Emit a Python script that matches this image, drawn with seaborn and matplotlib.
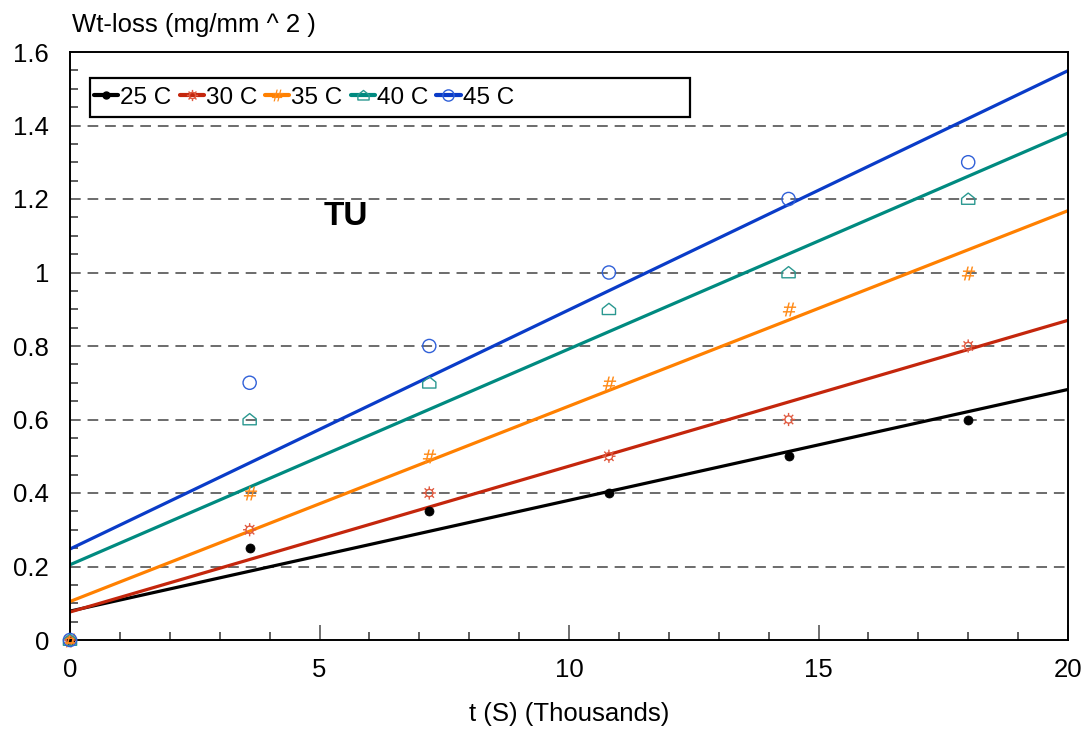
import numpy as np
import pandas as pd
import matplotlib
matplotlib.use("Agg")
import matplotlib.pyplot as plt
from matplotlib.lines import Line2D
from matplotlib.path import Path
from matplotlib.patches import Rectangle
import seaborn as sns

# ---- data ----
time_k = [0, 3.6, 7.2, 10.8, 14.4, 18.0]
series_names = ["25 C", "30 C", "35 C", "40 C", "45 C"]
wt_25 = [0, 0.25, 0.35, 0.40, 0.50, 0.60]
wt_30 = [0, 0.30, 0.40, 0.50, 0.60, 0.80]
wt_35 = [0, 0.40, 0.50, 0.70, 0.90, 1.00]
wt_40 = [0, 0.60, 0.70, 0.90, 1.00, 1.20]
wt_45 = [0, 0.70, 0.80, 1.00, 1.20, 1.30]
y_ticks = [0, 0.2, 0.4, 0.6, 0.8, 1.0, 1.2, 1.4, 1.6]
y_tick_labels = ["0", "0.2", "0.4", "0.6", "0.8", "1", "1.2", "1.4", "1.6"]
x_ticks = [0, 5, 10, 15, 20]
x_tick_labels = ["0", "5", "10", "15", "20"]

all_vals = [wt_25, wt_30, wt_35, wt_40, wt_45]

sns.set_theme(style="white")
plt.rcParams["font.family"] = ["Liberation Sans", "DejaVu Sans"]

line_colors = ["#000000", "#C4260C", "#FF8000", "#008A80", "#0A3CC8"]
marker_colors = ["#000000", "#E05A40", "#FF8C1A", "#2A9890", "#3060D8"]

# marker shapes
house = Path([(-1, -0.8), (1, -0.8), (1, 0.1), (0, 0.9), (-1, 0.1), (-1, -0.8)],
             [Path.MOVETO, Path.LINETO, Path.LINETO, Path.LINETO, Path.LINETO, Path.CLOSEPOLY])
_ang = np.linspace(0, 2 * np.pi, 17)
_verts = [(0.55 * np.cos(a), 0.55 * np.sin(a)) for a in _ang]
_codes = [Path.MOVETO] + [Path.LINETO] * 16
for a in np.arange(8) * np.pi / 4:
    _verts += [(0.62 * np.cos(a), 0.62 * np.sin(a)), (1.0 * np.cos(a), 1.0 * np.sin(a))]
    _codes += [Path.MOVETO, Path.LINETO]
sun = Path(_verts, _codes)

markers = ["o", sun, "$\\#$", house, "o"]
msizes = [6.5, 9.5, 10, 9.5, 9.5]
filled = [True, False, False, False, False]

rows = []
for name, vals in zip(series_names, all_vals):
    for t, v in zip(time_k, vals):
        rows.append({"t": t, "wt": v, "series": name})
df = pd.DataFrame(rows)

FS = 18.5

fig = plt.figure(figsize=(10.85, 7.35), dpi=100)
ax = fig.add_axes([70 / 1085, 95 / 735, 998 / 1085, 588 / 735])

# dashed grid
for yv in y_ticks[1:-1]:
    ax.axhline(yv, color="#444444", lw=1.1, ls=(0, (7, 4.5)), zorder=0)

xfit = np.array([0.0, 20.0])
handles = []
for i, name in enumerate(series_names):
    sub = df[df["series"] == name]
    k, b = np.polyfit(sub["t"], sub["wt"], 1)
    fit = pd.DataFrame({"t": xfit, "wt": k * xfit + b})
    sns.lineplot(data=fit, x="t", y="wt", ax=ax, color=line_colors[i], lw=2.3,
                 zorder=2, legend=False)
    hollow = (not filled[i]) and (markers[i] == "o" or isinstance(markers[i], Path))
    if filled[i]:
        sns.scatterplot(data=sub, x="t", y="wt", ax=ax, marker=markers[i], s=msizes[i] ** 2,
                        color=marker_colors[i], edgecolor=marker_colors[i], zorder=4,
                        legend=False, clip_on=False)
    elif hollow:
        sns.scatterplot(data=sub, x="t", y="wt", ax=ax, marker=markers[i], s=msizes[i] ** 2,
                        facecolor="none", edgecolor=marker_colors[i], linewidth=1.0,
                        zorder=4, legend=False, clip_on=False)
    else:
        sns.scatterplot(data=sub, x="t", y="wt", ax=ax, marker=markers[i], s=msizes[i] ** 2,
                        color=marker_colors[i], linewidth=0, zorder=4, legend=False,
                        clip_on=False)
    h = Line2D([], [], color=line_colors[i], lw=3.0, marker=markers[i],
               markersize=(5 if i == 0 else msizes[i] * 0.85),
               markerfacecolor=("none" if hollow else marker_colors[i]),
               markeredgecolor=marker_colors[i],
               markeredgewidth=(1.0 if hollow or i == 0 else 0))
    handles.append(h)

ax.set_xlim(0, 20)
ax.set_ylim(0, 1.6)
ax.set_xticks(x_ticks)
ax.set_xticklabels(x_tick_labels)
ax.set_yticks(y_ticks)
ax.set_yticklabels(y_tick_labels)
ax.set_xticks(np.arange(0, 21, 1), minor=True)
ax.set_yticks(np.arange(0, 1.601, 0.05), minor=True)
ax.tick_params(axis="both", which="major", direction="in", length=11, width=1.3,
               color="#666666", labelsize=FS, labelcolor="#000000")
ax.tick_params(axis="y", which="major", pad=15, length=0)
ax.tick_params(axis="x", which="major", pad=13)
ax.tick_params(axis="both", which="minor", direction="in", length=6, width=1.1, color="#333333")
ax.tick_params(axis="both", which="both", left=True, bottom=True, top=False, right=False)
for s in ax.spines.values():
    s.set_color("#000000")
    s.set_linewidth(1.4)
    s.set_visible(True)

ax.set_xlabel("t (S) (Thousands)", fontsize=FS, labelpad=14, color="#000000")
ax.set_ylabel("")
ax.text(0.002, 1.025, "Wt-loss (mg/mm ^ 2 )", transform=ax.transAxes, ha="left",
        va="bottom", fontsize=FS, color="#000000")
ax.text(5.52, 1.152, "TU", fontsize=24, fontweight="bold", ha="center", va="center",
        color="#000000")

# legend frame (box wider than its entries, as in the original)
ax.add_patch(Rectangle((20 / 998, (640 - 117) / 588), 600 / 998, 39 / 588,
                       transform=ax.transAxes, facecolor="white", edgecolor="#000000",
                       lw=1.6, zorder=9))
leg = ax.legend(handles, series_names, loc="center left",
                bbox_to_anchor=(24 / 998, (640 - 97.5) / 588),
                ncol=5, frameon=False, fontsize=17.5, handlelength=1.0,
                handletextpad=0.08, columnspacing=0.33, borderpad=0.0,
                borderaxespad=0.0)
leg.set_zorder(10)
for t in leg.get_texts():
    t.set_color("#000000")

fig.savefig("out.png", dpi=100, facecolor="white")
